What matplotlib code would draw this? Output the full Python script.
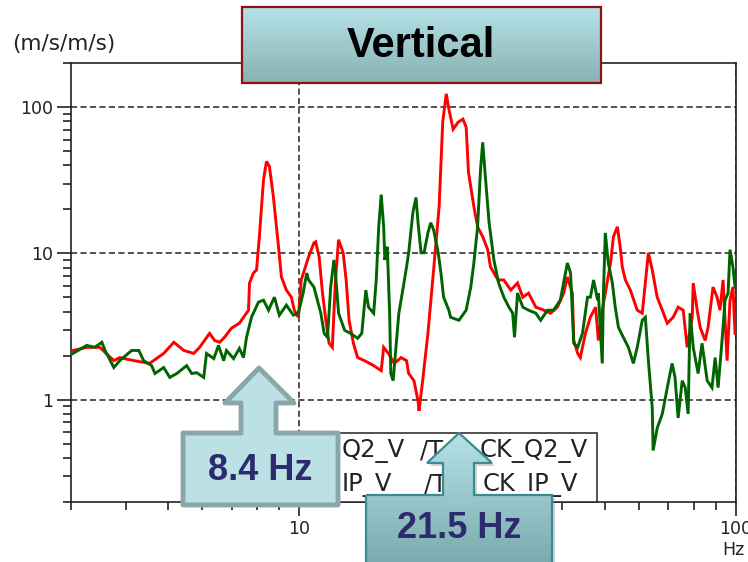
import numpy as np
import matplotlib
matplotlib.use("Agg")
import matplotlib.pyplot as plt
from matplotlib.patches import Polygon, Rectangle
from matplotlib.ticker import LogLocator, NullFormatter, FixedLocator, FixedFormatter

# ---------------- data ----------------
freq_red = [3.03, 3.26, 3.49, 3.76, 3.88, 4.18, 4.54, 4.89, 5.16, 5.44, 5.73, 5.91, 6.23, 6.40,
            6.57, 6.74, 6.99, 7.29, 7.65, 7.69, 7.85, 7.98, 8.10, 8.28, 8.41, 8.54, 8.72, 8.96,
            9.10, 9.34, 9.59, 9.74, 9.95, 10.1, 10.5, 10.8, 10.9, 11.1, 11.3, 11.5, 11.7, 11.9,
            12.1, 12.3, 12.6, 12.8, 13.0, 13.3, 13.6, 14.1, 14.8, 15.4, 15.6, 16.0, 16.5, 17.1,
            17.6, 17.8, 18.3, 18.7, 18.8, 19.2, 19.7, 20.3, 20.9, 21.3, 21.7, 22.0, 22.5, 23.1,
            23.7, 24.1, 24.4, 25.1, 25.6, 26.3, 27.0, 27.4, 28.5, 29.4, 30.5, 31.6, 32.5, 33.5,
            34.8, 36.3, 37.6, 39.0, 40.3, 41.1, 42.2, 42.5, 43.4, 44.0, 45.2, 46.4, 47.7, 48.4,
            49.4, 50.2, 51.6, 52.4, 53.5, 54.3, 54.9, 55.8, 57.3, 59.4, 61.0, 62.0, 63.0, 64.3,
            66.0, 67.8, 69.6, 71.8, 73.7, 75.7, 77.3, 79.4, 79.8, 81.5, 82.8, 85.0, 86.3, 88.6,
            90.5, 91.9, 93.4, 95.4, 96.9, 98.4, 99.5]
amp_red = [2.17, 2.28, 2.28, 1.85, 1.94, 1.85, 1.77, 2.07, 2.47, 2.17, 2.07, 2.28, 2.84, 2.54,
           2.47, 2.67, 3.08, 3.33, 4.09, 6.27, 7.34, 7.70, 13.0, 32.0, 42.5, 39.3, 24.5, 11.1,
           6.90, 5.61, 5.02, 4.09, 3.66, 6.58, 9.46, 11.8, 12.0, 9.46, 5.35, 3.49, 2.43, 2.28,
           6.58, 12.4, 10.1, 6.58, 3.49, 2.43, 1.94, 1.85, 1.71, 1.58, 2.28, 2.07, 1.77, 1.94,
           1.85, 1.51, 1.35, 0.98, 0.84, 1.42, 2.84, 7.70, 20.9, 78.8, 123.0, 97.0, 70.6, 78.8,
           82.7, 72.9, 35.8, 20.9, 15.2, 13.0, 10.6, 8.08, 6.58, 6.58, 5.61, 6.27, 5.02, 5.35,
           4.29, 4.09, 3.90, 4.29, 5.35, 6.90, 5.35, 2.54, 2.07, 1.94, 2.84, 3.66, 4.29, 2.54,
           4.09, 5.35, 8.60, 13.0, 15.2, 11.1, 8.08, 6.58, 5.61, 4.09, 3.90, 6.27, 10.1, 7.70,
           5.02, 4.09, 3.33, 3.66, 4.29, 4.09, 2.28, 3.66, 6.27, 4.09, 3.12, 2.54, 3.12, 5.89,
           5.02, 4.09, 6.58, 1.85, 4.79, 5.89, 2.84]

freq_green = [3.03, 3.26, 3.40, 3.53, 3.59, 3.76, 3.88, 4.13, 4.29, 4.40, 4.59, 4.67, 4.89, 5.05,
              5.24, 5.52, 5.67, 5.82, 6.04, 6.13, 6.37, 6.53, 6.71, 6.81, 7.07, 7.29, 7.45, 7.57,
              7.77, 8.06, 8.28, 8.50, 8.77, 9.00, 9.34, 9.69, 9.95, 10.2, 10.4, 10.5, 10.8, 11.0,
              11.2, 11.4, 11.6, 11.8, 12.0, 12.1, 12.3, 12.7, 13.1, 13.6, 13.9, 14.2, 14.4, 14.8,
              15.0, 15.2, 15.4, 15.6, 15.7, 15.9, 16.1, 16.2, 16.4, 16.7, 16.9, 17.3, 17.6, 17.8,
              18.2, 18.5, 18.7, 19.0, 19.3, 19.7, 20.0, 20.3, 20.8, 21.1, 21.4, 22.0, 22.2, 23.2,
              24.1, 24.7, 25.1, 25.6, 26.0, 26.3, 26.7, 27.2, 27.9, 28.6, 29.4, 30.2, 30.8, 31.1,
              31.6, 32.5, 33.5, 34.8, 35.7, 37.0, 38.2, 39.6, 41.1, 41.8, 42.5, 43.4, 44.5, 45.7,
              46.4, 47.2, 48.2, 48.4, 49.4, 49.7, 50.2, 51.0, 52.1, 52.9, 53.8, 55.2, 56.7, 58.2,
              59.4, 61.0, 62.0, 63.0, 64.3, 64.6, 66.0, 67.8, 69.6, 71.4, 72.5, 73.7, 75.3, 76.5,
              77.7, 78.5, 79.8, 81.9, 83.6, 85.9, 88.1, 89.6, 91.0, 92.9, 94.4, 95.9, 96.9, 98.4,
              99.5]
amp_green = [2.07, 2.35, 2.28, 2.47, 2.17, 1.66, 1.85, 2.17, 2.17, 1.85, 1.71, 1.51, 1.66, 1.42,
             1.51, 1.71, 1.51, 1.53, 1.42, 2.07, 1.91, 2.35, 1.85, 2.17, 1.91, 2.24, 1.94, 2.67,
             3.66, 4.64, 4.79, 4.09, 5.02, 3.78, 4.43, 3.78, 3.90, 5.35, 7.34, 6.58, 5.89, 4.79,
             3.90, 2.84, 2.67, 5.89, 9.02, 7.34, 3.90, 2.98, 2.84, 2.63, 2.84, 5.61, 4.29, 3.90,
             6.58, 15.2, 25.2, 15.2, 9.02, 11.1, 3.90, 1.51, 1.35, 2.54, 3.90, 5.89, 8.08, 10.1,
             19.0, 24.1, 16.2, 10.1, 10.1, 13.8, 16.2, 14.5, 10.1, 7.34, 5.02, 4.09, 3.66, 3.49,
             4.09, 5.89, 8.60, 15.2, 37.5, 57.4, 32.0, 16.2, 9.02, 6.27, 5.02, 4.29, 3.90, 2.67,
             5.35, 4.29, 4.09, 3.90, 3.49, 4.09, 4.09, 4.79, 8.60, 7.34, 2.43, 2.28, 2.84, 5.02,
             5.02, 6.58, 4.79, 5.35, 1.77, 5.35, 13.8, 8.60, 6.27, 4.29, 3.12, 2.67, 2.28, 1.77,
             2.28, 3.49, 3.66, 1.85, 0.88, 0.45, 0.64, 0.80, 1.21, 1.77, 1.42, 0.75, 1.35, 1.21,
             0.80, 3.90, 2.28, 1.51, 2.43, 1.35, 1.21, 1.94, 1.21, 2.54, 4.79, 5.35, 10.6, 8.08,
             5.89]

x_major = [10, 100]
x_major_labels = ["10", "100"]
y_major = [1, 10, 100]
y_major_labels = ["1", "10", "100"]

title_text = "Vertical"
y_unit = "(m/s/m/s)"
x_unit = "Hz"
callout_left = "8.4 Hz"
callout_right = "21.5 Hz"
legend_line1 = ("TTCK_", "Q2_V", "/T", "T", "CK_Q2_V")
legend_line2 = ("TTCK_", "IP_V", "/T", "T", "CK_IP_V")

# ---------------- figure ----------------
W, H = 748, 562
fig = plt.figure(figsize=(W / 100, H / 100), dpi=100)
fig.patch.set_facecolor("white")

ax = fig.add_axes([71 / W, 1 - 502 / H, (736 - 71) / W, (502 - 63) / H])
ax.set_xscale("log")
ax.set_yscale("log")
ax.set_xlim(3, 100)
ax.set_ylim(0.2, 200)

ax.plot(freq_red, amp_red, color="#ff0000", lw=2.1, zorder=3, solid_joinstyle="miter")
ax.plot(freq_green, amp_green, color="#006400", lw=2.1, zorder=4, solid_joinstyle="miter")

ax.xaxis.set_major_locator(FixedLocator(x_major))
ax.xaxis.set_major_formatter(FixedFormatter(x_major_labels))
ax.xaxis.set_minor_locator(LogLocator(base=10, subs=np.arange(2, 10)))
ax.xaxis.set_minor_formatter(NullFormatter())
ax.yaxis.set_major_locator(FixedLocator(y_major))
ax.yaxis.set_major_formatter(FixedFormatter(y_major_labels))
ax.yaxis.set_minor_locator(LogLocator(base=10, subs=np.arange(2, 10)))
ax.yaxis.set_minor_formatter(NullFormatter())

ax.grid(True, which="major", color="#222222", ls=(0, (4, 2.2)), lw=1.1, zorder=1)
ax.set_axisbelow(True)
for s in ax.spines.values():
    s.set_color("#222222")
    s.set_linewidth(1.2)
ax.tick_params(which="major", direction="out", length=10, width=1.2, colors="#222222",
               labelsize=12.5, pad=3)
ax.tick_params(which="minor", direction="out", length=6, width=1.2, colors="#222222")

fig.text(12 / W, 1 - 44 / H, y_unit, ha="left", va="center", fontsize=15.5, color="#222222")
fig.text(733 / W, 1 - 550 / H, x_unit, ha="center", va="center", fontsize=12.5, color="#222222")

# ---------------- overlay for annotations (pixel coordinates) ----------------
ov = fig.add_axes([0, 0, 1, 1])
ov.patch.set_alpha(0)
ov.axis("off")


def gradient(top, bottom, n=100):
    t = np.linspace(0, 1, n)[:, None, None]
    top = np.array(top)[None, None, :] / 255
    bottom = np.array(bottom)[None, None, :] / 255
    return top * (1 - t) + bottom * t


# Title box
ov.imshow(gradient((180, 226, 231), (136, 178, 180)), extent=(242, 601, 83, 7),
          aspect="auto", zorder=5, interpolation="bilinear")
ov.add_patch(Rectangle((242, 7), 359, 76, fill=False, ec="#8c1212", lw=1.6, zorder=6))
ov.text(421, 46, title_text, ha="center", va="center", fontsize=30, fontweight="bold",
        family="Liberation Sans", color="black", zorder=7)

# Legend box (partly hidden by the callouts)
ov.add_patch(Rectangle((200, 433), 397, 69, fc="white", ec="#222222", lw=1.1, zorder=4))
leg_kw = dict(fontsize=17.5, color="#222222", va="center", zorder=4.5)
for line, yy, slash_x, end_x in ((legend_line1, 451, 420, 588), (legend_line2, 485, 424, 578)):
    ov.text(330, yy, line[0], ha="right", **leg_kw)
    ov.text(342, yy, line[1], ha="left", **leg_kw)
    ov.text(slash_x, yy, line[2], ha="left", **leg_kw)
    ov.text(459, yy, line[3], ha="center", **leg_kw)
    ov.text(end_x, yy, line[4], ha="right", **leg_kw)

# 8.4 Hz callout
pts_left = [(183, 505), (183, 433), (241, 433), (241, 403), (225, 403), (259, 368),
            (294, 403), (276, 403), (276, 433), (338, 433), (338, 505)]
ov.add_patch(Polygon(pts_left, closed=True, fc="#bce1e4", ec="#8aa6a9", lw=3.5,
                     joinstyle="round", zorder=7))
ov.text(260, 470, callout_left, ha="center", va="center", fontsize=26, fontweight="bold",
        family="Liberation Sans", color="#2b2b6e", zorder=7.5)

# 21.5 Hz callout
pts_right = [(366, 495), (443, 495), (443, 463), (427, 463), (459, 433), (492, 463),
             (474, 463), (474, 495), (552, 495), (552, 566), (366, 566)]
shadow = Polygon([(x + 3, y + 3) for x, y in pts_right], closed=True, fc="#888888",
                 ec="none", alpha=0.35, zorder=7.8)
ov.add_patch(shadow)
clip = Polygon(pts_right, closed=True, fc="none", ec="none", zorder=7.9)
ov.add_patch(clip)
im = ov.imshow(gradient((182, 226, 230), (122, 170, 173)), extent=(366, 552, 566, 433),
               aspect="auto", zorder=8, interpolation="bilinear")
im.set_clip_path(clip)
ov.add_patch(Polygon(pts_right, closed=True, fill=False, ec="#3b8b90", lw=1.6, zorder=9))
ov.text(459, 529, callout_right, ha="center", va="center", fontsize=26, fontweight="bold",
        family="Liberation Sans", color="#2b2b6e", zorder=10)

ov.set_xlim(0, W)
ov.set_ylim(H, 0)

fig.savefig("out.png", dpi=100, facecolor="white")
